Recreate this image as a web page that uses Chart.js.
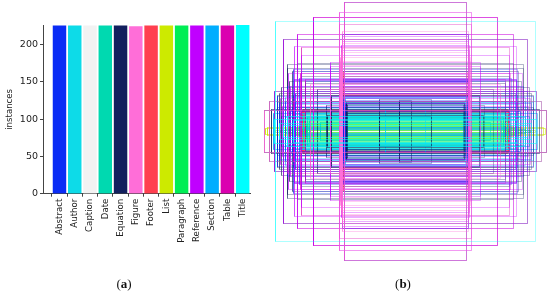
<!DOCTYPE html>
<html><head><meta charset="utf-8">
<style>
html,body{margin:0;padding:0;background:#fff;width:550px;height:294px;overflow:hidden}
.p{position:absolute;top:0;height:294px;filter:blur(0.4px)}
#pa{left:0;width:260px}#pb{left:260px;width:290px}
.cap{position:absolute;top:276px;font:13px "Liberation Serif",serif;color:#111;transform:translateX(-50%)}
.cap b{font-weight:700}
</style></head><body>
<div class="p" id="pa"><canvas id="a"></canvas></div>
<div class="p" id="pb"><canvas id="b"></canvas></div>
<div class="cap" style="left:124px">(<b>a</b>)</div>
<div class="cap" style="left:403px">(<b>b</b>)</div>
<script src="https://cdn.jsdelivr.net/npm/chart.js@4"></script>
<script>
const categories=["Abstract","Author","Caption","Date","Equation","Figure","Footer","List","Paragraph","Reference","Section","Table","Title"];
const instances=[225,225,225,225,225,224,225,225,225,225,225,225,226];
const colors=["#0a2cf5","#0ddbe8","#f2f2f2","#00d9b0","#12205e","#ff6ed8","#ff3f4f","#cdea00","#00ee55","#c000ff","#00aeff","#db00b0","#00ffff"];
const yTicks=[0,50,100,150,200];

// Panel (b): half-width / half-height of the boxes of each class
const titleW=[130,131,126,122,118,112];
const titleH=[110,12,8,6,15,11];
const figureW=[61,66,63,63,64,64,65,65,65,141,136,95,75,64,64,63];
const figureH=[129,119,92,88,83,79,74,70,66,21,30,47,42,62,58,100];
const referenceW=[61,66,108,122,111,104,92,111,111,117,131,75,75,64,63,63,63,108,115,125,118,123,64,64,64,64,63,63,64,64];
const referenceH=[129,119,97,92,85,76,114,51,52,58,40,69,65,57,49,50,53,35,45,33,28,25,47,45,43,38,95,90,86,81];
const tableW=[92,92,104,108,66,63,63,64,64,95,105,100,118,112,64,64];
const tableH=[114,114,84,97,107,55,48,44,41,38,58,52,42,30,37,36];
const abstractW=[63,63,111,111,63,63,64,64,60,120,115,63,63,63,62,62,106,100,122,128,126,118,113,110,104,112];
const abstractH=[97,97,51,52,51,50,50,34,28,30,20,52,49,35,33,31,53,50,40,35,28,45,24,38,60,62];
const equationW=[61,59,59,59,58,118,118,104,100,26,6,6,60,78,26,122,131,141,136,128,88,79,62,113,124,118,128,126,134,108,116,112,74,74];
const equationH=[129,28,28,29,27,63,67,55,48,32,31,30,24,16,15,92,40,21,30,36,42,26,18,60,44,30,24,38,22,68,50,36,36,35];
const sectionW=[104,100,110,115,60,58,60,115,102,100,64,62,60,110,122,128,132,120,124];
const sectionH=[24,23,12,27,33,18,4,4,3,2,25,26,22,29,24,29,18,34,15];
const authorW=[110,120,60,20,105];
const authorH=[17,14,13,22,18];
const dateW=[102,100,98,100,100,96,100,110,85,95,100,98,102,100,60,98];
const dateH=[16,15,14,13,12,11,17,18,9,14,14,15,13,19,15,12];
const paragraphW=[102,100,102,99,98,100,104,120,125,110,100];
const paragraphH=[10,9,8,7,6,5,4,2,1,3,8];
const listW=[100,105,108,130,138,140];
const listH=[11,7,5,1,4,3];
const footerW=[103,103,101,102,103,66,62];
const footerH=[20,21,19,22,20,37,60];
const crimsonTableW=[103,103,103,103,103];
const crimsonTableH=[20,21,20,19,20];
const captionW=[100,90,100,25];
const captionH=[1,2,0,22];

const boxGroups=[[12,titleW,titleH],[5,figureW,figureH],[9,referenceW,referenceH],[11,tableW,tableH],[0,abstractW,abstractH],[4,equationW,equationH],[10,sectionW,sectionH],[1,authorW,authorH],[3,dateW,dateH],[8,paragraphW,paragraphH],[7,listW,listH],[6,footerW,footerH],[11,crimsonTableW,crimsonTableH],[2,captionW,captionH]];

function rgba(hex,a){const n=parseInt(hex.slice(1),16);return `rgba(${n>>16},${(n>>8)&255},${n&255},${a})`}

const axisColor="#444";
const font={family:"'DejaVu Sans',sans-serif",size:8.6};
new Chart(document.getElementById("a"),{
  type:"bar",
  data:{datasets:[{data:instances.map((v,i)=>({x:i,y:v})),backgroundColor:colors,barThickness:12.8}]},
  options:{responsive:true,maintainAspectRatio:false,animation:false,
    layout:{padding:{left:0,top:25,right:10,bottom:0}},
    plugins:{legend:{display:false},tooltip:{enabled:false}},
    scales:{
      x:{type:"linear",offset:false,min:-1.08,max:12.48,
        afterBuildTicks:s=>{s.ticks=categories.map((c,i)=>({value:i}))},
        afterFit:s=>{s.height=100.3},
        grid:{drawOnChartArea:false,color:axisColor,tickLength:3},
        border:{color:axisColor},
        ticks:{autoSkip:false,minRotation:90,maxRotation:90,padding:2,color:"#222",font,callback:v=>categories[v]}},
      y:{min:0,max:226,
        afterBuildTicks:s=>{s.ticks=yTicks.map(v=>({value:v}))},
        afterFit:s=>{s.width=43},
        grid:{drawOnChartArea:false,color:axisColor,tickLength:3},
        border:{color:axisColor},
        title:{display:true,text:"instances",color:"#222",font,padding:{top:5,bottom:0}},
        ticks:{padding:2,color:"#222",font:{family:font.family,size:9.5}}}
    }}
});

const boxSets=[];
boxGroups.forEach(([c,ws,hs])=>ws.forEach((w,i)=>{
  const h=hs[i];
  boxSets.push({data:[{x:-w,y:-h},{x:w,y:-h},{x:w,y:h},{x:-w,y:h},{x:-w,y:-h}],
    showLine:true,fill:false,pointRadius:0,borderWidth:1,
    borderDash:h===0?[2,2]:[],
    borderColor:rgba(colors[c],h<=22?0.55:0.32)});
}));
new Chart(document.getElementById("b"),{
  type:"scatter",
  data:{datasets:boxSets},
  options:{responsive:true,maintainAspectRatio:false,animation:false,
    layout:{padding:0},
    plugins:{legend:{display:false},tooltip:{enabled:false}},
    scales:{x:{display:false,min:-145.5,max:144.5},y:{display:false,min:-162.5,max:131.5}}}
});
</script>
</body></html>
